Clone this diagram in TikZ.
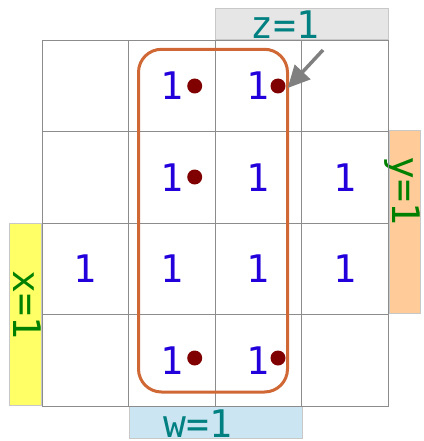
\documentclass[tikz,border=0pt]{standalone}
\usepackage{fontspec}
\newfontfamily\kmono{DejaVu Sans Mono}
\usetikzlibrary{arrows.meta}

\definecolor{gridgray}{RGB}{140,140,140}
\definecolor{bargray}{RGB}{200,200,200}
\definecolor{zfill}{RGB}{230,230,230}
\definecolor{yfill}{RGB}{255,204,153}
\definecolor{xfill}{RGB}{255,255,102}
\definecolor{wfill}{RGB}{204,229,242}
\definecolor{oneblue}{RGB}{34,0,220}
\definecolor{dotred}{RGB}{128,0,0}
\definecolor{groupor}{RGB}{207,104,52}
\definecolor{lblteal}{RGB}{0,128,128}
\definecolor{lblgreen}{RGB}{0,128,0}

\newcommand*{\kfont}{\kmono\fontsize{38}{40}\selectfont}
\newcommand*{\gx}{42}
\newcommand*{\gy}{40}
\newcommand*{\cw}{86.5}
\newcommand*{\ch}{91.5}

\begin{document}
\begin{tikzpicture}
[
	x=1pt, y=-1pt,
	cell/.style={draw=gridgray,line width=0.9pt},
	bar/.style={draw=bargray,line width=0.9pt},
	one/.style={text=oneblue,inner sep=0pt,font=\kfont},
	lbl/.style={inner sep=0pt,anchor=base,font=\kfont},
	kdot/.style={circle,fill=dotred,inner sep=0pt,minimum size=15pt},
	group/.style={draw=groupor,line width=3pt,rounded corners=23pt},
	pointer/.style={draw=gray,line width=3.5pt,-{Triangle[length=22pt,width=21pt]}}
]
	\useasboundingbox (0,0) rectangle (423,441);

	% label bars
	\draw[bar,fill=zfill] (215,8) rectangle (388,39);
	\draw[bar,fill=yfill] (389,130) rectangle (420,313);
	\draw[bar,fill=xfill] (9,223) rectangle (41,405);
	\draw[bar,fill=wfill] (129,406) rectangle (302,438);

	% label texts
	\node[lbl,text=lblteal] (zl) at (284.7,39) {z=1};
	\node[lbl,text=lblteal] (wl) at (198,437.5) {w=1};
	\node[lbl,text=lblgreen,rotate=-90] (xl) at (13.5,304.7) {x=1};
	\node[lbl,text=lblgreen,rotate=-90] (yl) at (392,191) {y=1};

	% grid
	\foreach \r in {0,...,3} {
		\foreach \c in {0,...,3} {
			\draw[cell] ({\gx+\c*\cw},{\gy+\r*\ch}) rectangle +(\cw,\ch);
		}
	}

	% group
	\draw[group] (138.5,49.3) rectangle (287.5,392);

	% ones
	\foreach \r/\c in {0/1,0/2,1/1,1/2,1/3,2/0,2/1,2/2,2/3,3/1,3/2} {
		\node[one] (o\r\c) at ({\gx+(\c+0.5)*\cw},{\gy+(\r+0.5)*\ch}) {1};
	}

	% dots
	\node[kdot] (d01) at (194.7,86) {};
	\node[kdot] (d02) at (278,86) {};
	\node[kdot] (d11) at (194.7,177) {};
	\node[kdot] (d31) at (194.7,358) {};
	\node[kdot] (d32) at (278,358) {};

	% pointer
	\coordinate (tail) at (323,50);
	\draw[pointer] (tail) -- ([xshift=2pt,yshift=-2pt]d02.east);

\end{tikzpicture}
\end{document}
